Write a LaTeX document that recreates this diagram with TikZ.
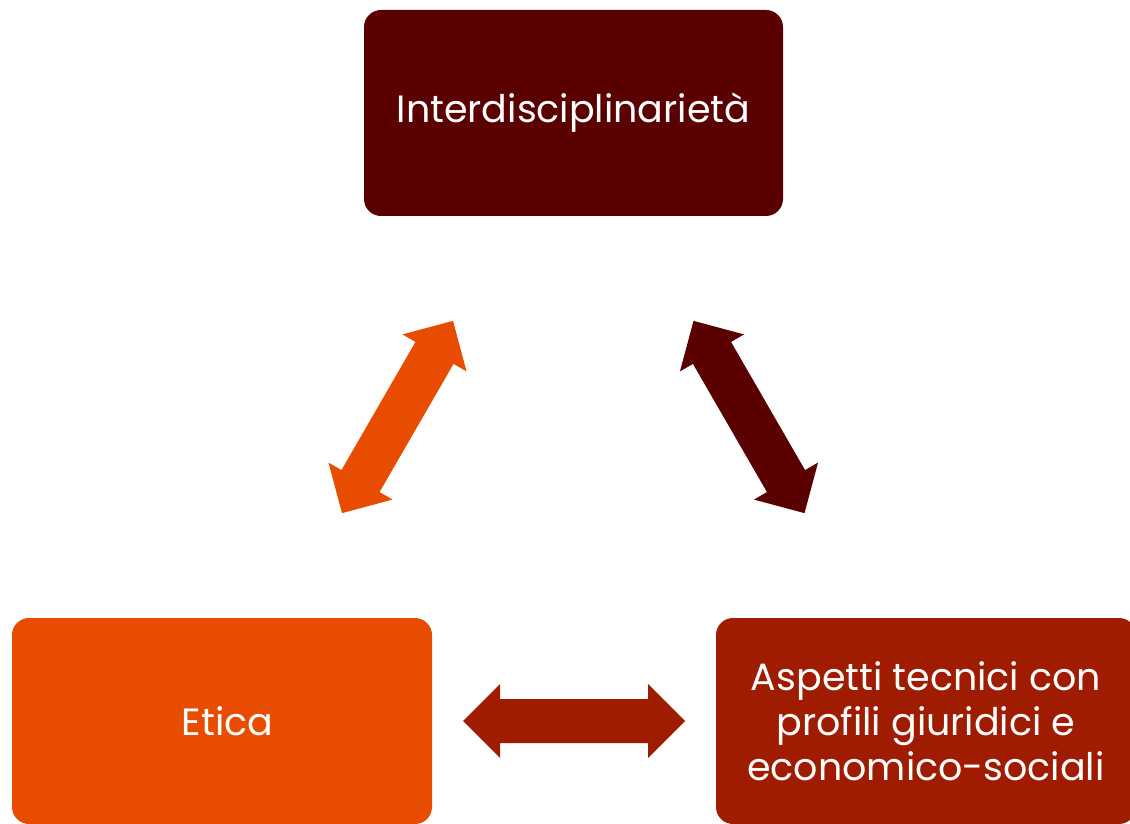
\documentclass[tikz,border=0pt]{standalone}
\usepackage{fontspec}
\setmainfont{Poppins}
\definecolor{maroon}{HTML}{5A0000}
\definecolor{orangeA}{HTML}{E84C00}
\definecolor{rust}{HTML}{A01C00}
\tikzset{
  box/.style={rounded corners=17pt, inner sep=0pt, text=white, align=center,
    font=\fontsize{38}{45}\selectfont},
}
\newcommand{\dblarrow}[4]{% center, angle, colour, name
  \begin{scope}[shift={(#1)}, rotate=#2]
    \fill[#3] (-111,0) -- (-74,37) -- (-74,22) -- (74,22) -- (74,37) -- (111,0)
      -- (74,-37) -- (74,-22) -- (-74,-22) -- (-74,-37) -- cycle;
  \end{scope}}
\begin{document}
\begin{tikzpicture}[x=1pt,y=1pt]
\useasboundingbox (0,0) rectangle (1130,823);
\node[box, fill=maroon, minimum width=419pt, minimum height=206pt] (top) at (573.5,710) {Interdisciplinariet\`a};
\node[box, fill=orangeA, minimum width=420pt, minimum height=206pt] (left) at (222,102) {\hspace{11pt}Etica};
\node[box, fill=rust, minimum width=420pt, minimum height=206pt] (right) at (926,102) {Aspetti tecnici con\\profili giuridici e\\economico-sociali};
\coordinate (la) at (397.5,406);
\coordinate (ra) at (749,406);
\coordinate (ba) at (574,102);
\dblarrow{la}{60}{orangeA}{a1}
\dblarrow{ra}{120}{maroon}{a2}
\dblarrow{ba}{0}{rust}{a3}
\end{tikzpicture}
\end{document}
